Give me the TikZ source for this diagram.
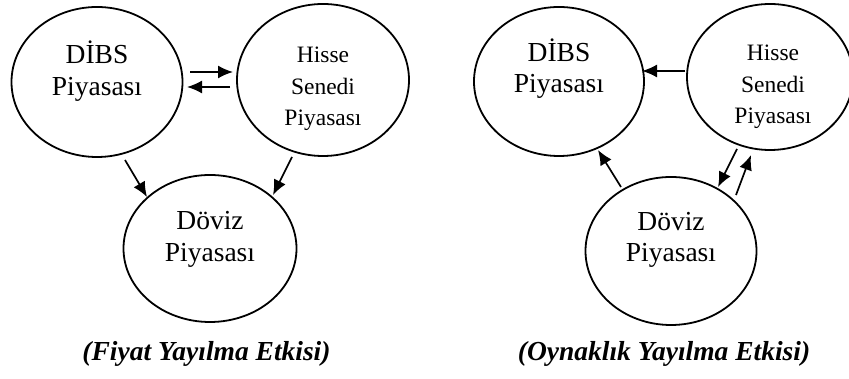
\documentclass[tikz,border=0pt]{standalone}
\usepackage{fontspec}
\setmainfont{Liberation Serif}
\usetikzlibrary{shapes.geometric,arrows.meta}
\tikzset{
  market/.style={draw,ellipse,line width=1.8pt,inner sep=0pt},
  mtext/.style={align=center,font=\fontsize{27.5}{31.5}\selectfont},
  stext/.style={align=center,font=\fontsize{23.5}{31.5}\selectfont},
  captext/.style={font=\fontsize{27.5}{32}\selectfont\bfseries\itshape},
  flow/.style={->,>={Latex[length=15pt,width=13pt]},line width=1.7pt}
}
\begin{document}
\begin{tikzpicture}[x=1pt,y=1pt]
    \useasboundingbox (0,0) rectangle (849,379);
    % Fiyat yayilma etkisi
    \node[market,minimum width=171pt,minimum height=150pt] (ldibs) at (97,297) {};
    \node[market,minimum width=172pt,minimum height=152pt] (lhisse) at (323,299) {};
    \node[market,minimum width=173pt,minimum height=147pt] (ldoviz) at (210,130.5) {};
    \node[mtext] (ldibst) at ([yshift=11pt]ldibs.center) {DİBS\\Piyasası};
    \node[stext] (lhisset) at ([yshift=-9pt]lhisse.center) {Hisse\\Senedi\\Piyasası};
    \node[mtext] (ldovizt) at ([yshift=9pt]ldoviz.center) {Döviz\\Piyasası};
    \draw[flow] ([shift={(93,10)}]ldibs.center) -- ([shift={(-90,8)}]lhisse.center);
    \draw[flow] ([shift={(-93,-7)}]lhisse.center) -- ([shift={(90,-5)}]ldibs.center);
    \draw[flow] ([shift={(28,-78)}]ldibs.center) -- ([shift={(-63,51.5)}]ldoviz.center);
    \draw[flow] ([shift={(-31,-77)}]lhisse.center) -- ([shift={(63,53.5)}]ldoviz.center);
    \node[captext] (lcap) at (206.5,25) {(Fiyat Yayılma Etkisi)};
    % Oynaklik yayilma etkisi
    \node[market,minimum width=170pt,minimum height=149pt] (rdibs) at (559,297.5) {};
    \node[market,minimum width=166pt,minimum height=146pt] (rhisse) at (770,302) {};
    \node[market,minimum width=171pt,minimum height=148pt] (rdoviz) at (671,128) {};
    \node[mtext] (rdibst) at ([yshift=13pt]rdibs.center) {DİBS\\Piyasası};
    \node[stext] (rhisset) at ([shift={(3,-10)}]rhisse.center) {Hisse\\Senedi\\Piyasası};
    \node[mtext] (rdovizt) at ([yshift=11pt]rdoviz.center) {Döviz\\Piyasası};
    \draw[flow] ([shift={(-85,6)}]rhisse.center) -- ([shift={(83,10.5)}]rdibs.center);
    \draw[flow] ([shift={(-50,64)}]rdoviz.center) -- ([shift={(39,-68.5)}]rdibs.center);
    \draw[flow] ([shift={(-33,-72)}]rhisse.center) -- ([shift={(47,64)}]rdoviz.center);
    \draw[flow] ([shift={(65,56)}]rdoviz.center) -- ([shift={(-19,-78)}]rhisse.center);
    \node[captext] (rcap) at (664,25) {(Oynaklık Yayılma Etkisi)};
\end{tikzpicture}
\end{document}
